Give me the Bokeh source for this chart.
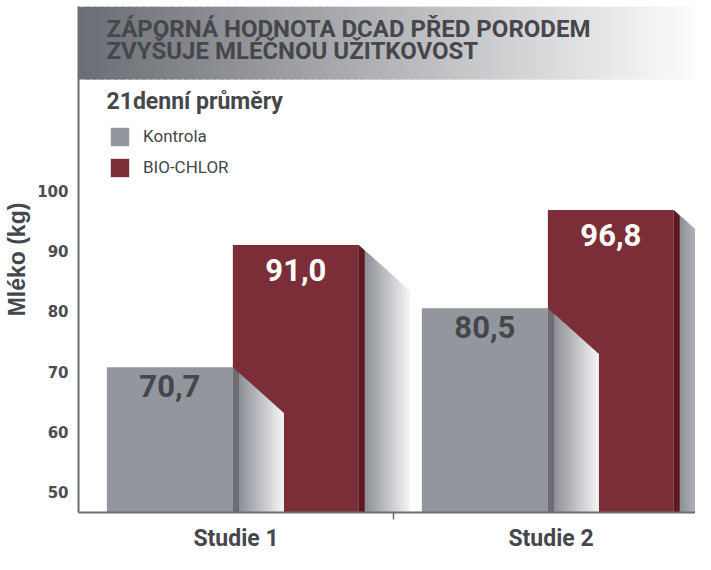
from bokeh.plotting import figure
from bokeh.models import FixedTicker, Label, Legend, LegendItem, Range1d
from bokeh.embed import file_html
from bokeh.resources import INLINE
from bokeh.core.properties import value

# ---------------- data ----------------
studies = ["Studie 1", "Studie 2"]
series = ["Kontrola", "BIO-CHLOR"]
kontrola = [70.7, 80.5]
bio_chlor = [91.0, 96.8]
kontrola_labels = ["70,7", "80,5"]
bio_chlor_labels = ["91,0", "96,8"]
y_ticks = [50, 60, 70, 80, 90, 100]
title_lines = ["ZÁPORNÁ HODNOTA DCAD PŘED PORODEM", "ZVYŠUJE MLÉČNOU UŽITKOVOST"]
subtitle = "21denní průměry"
y_label = "Mléko (kg)"

# ---------------- layout constants ----------------
W, H = 695, 554
BORDER_L, BORDER_T, BORDER_B = 78, 6, 39
FRAME_H = H - BORDER_T - BORDER_B
REF_TOP, REF_BOT = 14, 533          # frame edges in the reference picture
K = FRAME_H / (REF_BOT - REF_TOP)   # vertical compression
PX_X = 315.0                        # pixels per category unit
REF_PX_Y = 6.18                     # reference pixels per kg
REF_Y50 = 512

def X(px):
    return (px - BORDER_L) / PX_X

def Y(py_ref):
    return 50 + (REF_Y50 - py_ref) / REF_PX_Y

y_start = Y(REF_BOT)
y_end = Y(REF_TOP)
x_end = (W - BORDER_L) / PX_X

GREY = "#93969d"
GREY_DARK = "#6c6e74"
RED = "#7b2e37"
RED_DARK = "#5a1a1f"
TXT = "#45474c"
FONT = "Roboto"

BAR_W = 0.40
CAT_OFF = 0.49
DS = 6 / PX_X                 # dark side strip
SD = 51 / PX_X                # shadow depth
SLOPE = (47 / 51) * PX_X / REF_PX_Y

p = figure(width=W, height=H, output_backend="svg", toolbar_location=None,
           x_range=Range1d(0, x_end), y_range=Range1d(y_start, y_end),
           min_border_left=BORDER_L, min_border_top=BORDER_T,
           min_border_right=0, min_border_bottom=BORDER_B)
p.outline_line_color = None
p.grid.visible = False
p.background_fill_color = "white"
p.border_fill_color = "white"

# ---------------- banner gradient ----------------
NB = 90
b_left, b_right = X(78), X(712)
bw = (b_right - b_left) / NB
c0, c1 = (0x6b, 0x6e, 0x74), (0xff, 0xff, 0xff)
bl, br, bcol = [], [], []
for k in range(NB):
    t = k / (NB - 1)
    bl.append(b_left + k * bw)
    br.append(b_left + (k + 1.6) * bw)
    rgb = tuple(int(round(a + (b - a) * t)) for a, b in zip(c0, c1))
    bcol.append("#%02x%02x%02x" % rgb)
p.quad(left=bl, right=br, top=Y(14), bottom=Y(89), fill_color=bcol, line_color=None)


def bar_group(lefts, tops, color, dark):
    rights = [l + BAR_W for l in lefts]
    r = p.quad(left=lefts, right=rights, top=tops, bottom=y_start,
               fill_color=color, line_color=None)
    N = 30
    g0, g1 = (0x8e, 0x91, 0x98), (0xf4, 0xf4, 0xf4)
    gx, gy, gc = [], [], []
    for rt, t in zip(rights, tops):
        xa = rt + DS
        w = (SD - DS) / N
        for k in range(N):
            xl = xa + k * w
            xr = min(xl + w * 1.8, rt + SD)
            gx.append([xl, xr, xr, xl])
            gy.append([t - (xl - rt) * SLOPE, t - (xr - rt) * SLOPE, y_start, y_start])
            tt = k / (N - 1)
            rgb = tuple(int(round(a + (b - a) * tt)) for a, b in zip(g0, g1))
            gc.append("#%02x%02x%02x" % rgb)
    p.patches(gx, gy, fill_color=gc, line_color=None)
    sx, sy = [], []
    for rt, t in zip(rights, tops):
        sx.append([rt, rt + DS, rt + DS, rt])
        sy.append([t, t - DS * SLOPE, y_start, y_start])
    p.patches(sx, sy, fill_color=dark, line_color=None)
    return r, [l + BAR_W / 2 for l in lefts]

idx = list(range(len(studies)))
bio_left = [i + CAT_OFF for i in idx]
kon_left = [i + CAT_OFF - BAR_W for i in idx]

r_bio, bio_c = bar_group(bio_left, bio_chlor, RED, RED_DARK)
r_kon, kon_c = bar_group(kon_left, kontrola, GREY, GREY_DARK)

p.text(x=kon_c, y=kontrola, text=kontrola_labels, text_align="center",
       text_baseline="top", y_offset=8, text_font=value(FONT),
       text_font_style="bold", text_font_size="31px", text_color=TXT)
p.text(x=bio_c, y=bio_chlor, text=bio_chlor_labels, text_align="center",
       text_baseline="top", y_offset=14, text_font=value(FONT),
       text_font_style="bold", text_font_size="31px", text_color="white")

# ---------------- titles ----------------
for line, top in zip(title_lines, [23, 45]):
    p.add_layout(Label(x=X(106), y=Y(top), text=line, text_font=FONT,
                       text_font_style="bold", text_font_size="24px", text_color=TXT,
                       text_baseline="top"))
p.add_layout(Label(x=X(106), y=Y(98), text=subtitle, text_font=FONT,
                   text_font_style="bold", text_font_size="23px", text_color=TXT,
                   text_baseline="top"))

# ---------------- legend ----------------
legend_bottom = FRAME_H - (193 - REF_TOP) * K
legend = Legend(items=[LegendItem(label=series[0], renderers=[r_kon]),
                       LegendItem(label=series[1], renderers=[r_bio])],
                location=(108 - BORDER_L, legend_bottom), orientation="vertical",
                glyph_width=23, glyph_height=23, label_standoff=12, spacing=8,
                padding=0, margin=0, border_line_color=None, background_fill_alpha=0,
                label_text_font=FONT, label_text_font_size="17px",
                label_text_color=TXT, label_height=23)
p.add_layout(legend)

# ---------------- axes ----------------
AX = "#6b6d72"
xa = p.xaxis[0]
xa.ticker = FixedTicker(ticks=[i + 0.5 for i in idx], minor_ticks=[1.0])
xa.major_label_overrides = {i + 0.5: s for i, s in zip(idx, studies)}
xa.major_tick_line_color = None
xa.major_tick_out = 0
xa.major_tick_in = 0
xa.minor_tick_in = 0
xa.minor_tick_out = 7
xa.minor_tick_line_color = AX
xa.minor_tick_line_width = 1.5
xa.axis_line_color = AX
xa.axis_line_width = 2
xa.major_label_standoff = 5
xa.major_label_text_font = FONT
xa.major_label_text_font_style = "bold"
xa.major_label_text_font_size = "23px"
xa.major_label_text_color = TXT

ya = p.yaxis[0]
ya.ticker = FixedTicker(ticks=y_ticks, minor_ticks=[])
ya.major_tick_in = 0
ya.major_tick_out = 0
ya.minor_tick_line_color = None
ya.axis_line_color = AX
ya.axis_line_width = 2
ya.major_label_standoff = 10
ya.major_label_text_font = "DejaVu Sans"
ya.major_label_text_font_style = "bold"
ya.major_label_text_font_size = "15px"
ya.major_label_text_color = "#4b4d52"
ya.axis_label = y_label
ya.axis_label_standoff = 4
ya.axis_label_text_font = "Liberation Sans"
ya.axis_label_text_font_style = "bold"
ya.axis_label_text_font_size = "23px"
ya.axis_label_text_color = TXT

open("out.html", "w").write(file_html(p, INLINE))
